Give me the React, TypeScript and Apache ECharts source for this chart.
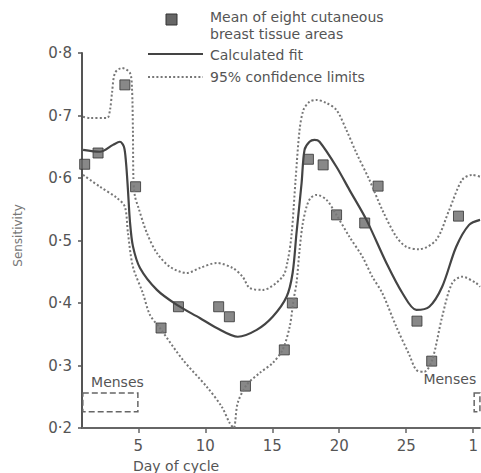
import React, { useEffect, useRef } from "react";
import * as echarts from "echarts";

const xTickValues = [5, 10, 15, 20, 25, 30];
const xTickLabels = ["5", "10", "15", "20", "25", "1"];

const meanDays = [1, 2, 4, 4.8, 6.7, 8, 11, 11.8, 13, 15.9, 16.5, 17.7, 18.8, 19.8, 21.9, 22.9, 25.8, 26.9, 28.9];
const meanValues = [0.622, 0.64, 0.749, 0.586, 0.36, 0.394, 0.394, 0.378, 0.267, 0.325, 0.4, 0.63, 0.621, 0.541, 0.528, 0.587, 0.371, 0.307, 0.539];

const fitDays = [0.88, 2.14, 3.11, 3.63, 3.93, 4.08, 4.23, 4.38, 4.6, 5.13, 6.39, 7.88, 9.59, 10.86, 12.43, 13.84, 15.03, 16.07, 16.52, 16.81, 17.19, 17.41, 17.78, 18.15, 18.53, 19.79, 20.76, 22.03, 23.52, 24.71, 25.75, 26.72, 27.68, 28.73, 29.69, 30.51];
const fitValues = [0.645, 0.642, 0.653, 0.658, 0.65, 0.626, 0.581, 0.53, 0.491, 0.456, 0.421, 0.397, 0.376, 0.36, 0.346, 0.357, 0.378, 0.41, 0.448, 0.512, 0.592, 0.645, 0.658, 0.661, 0.658, 0.618, 0.581, 0.533, 0.464, 0.416, 0.389, 0.394, 0.426, 0.49, 0.525, 0.533];

const upperDays = [0.88, 1.4, 2.67, 2.89, 3.04, 3.26, 3.78, 4.38, 4.53, 4.6, 4.64, 4.75, 4.99, 5.64, 6.39, 7.36, 8.62, 9.59, 10.86, 12.05, 12.79, 13.32, 14.29, 15.77, 16.14, 16.44, 16.74, 17.04, 17.33, 17.78, 18.3, 19.05, 19.79, 20.53, 21.28, 22.25, 23.21, 24.26, 25.0, 25.97, 27.24, 28.21, 29.17, 29.92, 30.51];
const upperValues = [0.698, 0.696, 0.696, 0.709, 0.736, 0.768, 0.776, 0.768, 0.744, 0.677, 0.597, 0.571, 0.554, 0.512, 0.48, 0.458, 0.448, 0.456, 0.464, 0.456, 0.442, 0.424, 0.421, 0.442, 0.466, 0.509, 0.597, 0.677, 0.709, 0.722, 0.725, 0.72, 0.709, 0.677, 0.64, 0.597, 0.549, 0.506, 0.49, 0.486, 0.501, 0.549, 0.597, 0.605, 0.602];

const lowerDays = [0.88, 2.14, 3.41, 4.0, 4.23, 4.6, 5.34, 5.87, 6.61, 8.33, 10.11, 11.23, 11.82, 12.12, 12.42, 13.09, 14.06, 15.03, 15.77, 16.3, 16.59, 16.81, 17.04, 17.26, 17.56, 17.86, 18.3, 19.05, 19.79, 20.76, 21.73, 22.47, 23.21, 24.26, 25.23, 25.75, 26.34, 26.94, 27.68, 28.43, 29.17, 30.21, 30.51];
const lowerValues = [0.605, 0.586, 0.568, 0.554, 0.512, 0.458, 0.416, 0.381, 0.36, 0.309, 0.266, 0.234, 0.208, 0.2, 0.24, 0.269, 0.288, 0.304, 0.325, 0.362, 0.405, 0.432, 0.485, 0.525, 0.554, 0.568, 0.573, 0.565, 0.541, 0.506, 0.474, 0.442, 0.416, 0.362, 0.317, 0.293, 0.29, 0.309, 0.378, 0.432, 0.442, 0.432, 0.426];

const mensesRanges = [
  [0.86, 4.97],
  [30.07, 33],
];
const mensesLow = 0.226;
const mensesHigh = 0.256;
const mensesLabel = "Menses";

const legendMean = ["Mean of eight cutaneous", "breast tissue areas"];
const legendFit = "Calculated fit";
const legendLimits = "95% confidence limits";

const FONT = "DejaVu Sans";
const TXT = "#555";

const pairs = (xs: number[], ys: number[]) => xs.map((x, i) => [x, ys[i]]);

export default function App() {
  const ref = useRef<HTMLDivElement>(null);
  useEffect(() => {
    if (!ref.current) return;
    const chart = echarts.init(ref.current, null, { renderer: "svg" });
    const dotted = { color: "#777", width: 2, type: [2, 2.2] as any };
    chart.setOption({
      animation: false,
      backgroundColor: "#fff",
      grid: { left: 82, right: 0, top: 53, bottom: 45 },
      xAxis: {
        type: "value",
        min: 0.8,
        max: 30.5,
        splitLine: { show: false },
        axisLine: { lineStyle: { color: "#666", width: 2 } },
        axisTick: { customValues: xTickValues, length: 5, lineStyle: { color: "#666", width: 1.5 } },
        axisLabel: {
          customValues: xTickValues,
          formatter: (v: number) => xTickLabels[xTickValues.indexOf(v)] ?? "",
          fontFamily: FONT,
          fontSize: 15,
          color: TXT,
          margin: 10,
        },
      },
      yAxis: {
        type: "value",
        min: 0.2,
        max: 0.8,
        interval: 0.1,
        name: "Sensitivity",
        nameLocation: "middle",
        nameGap: 58,
        nameTextStyle: { fontFamily: FONT, fontSize: 12, color: "#777", padding: [0, 0, 0, 10] },
        splitLine: { show: false },
        axisLine: { lineStyle: { color: "#555", width: 2 } },
        axisTick: { length: 4, lineStyle: { color: "#555", width: 1.5 } },
        axisLabel: {
          formatter: (v: number) => v.toFixed(1).replace(".", "·"),
          fontFamily: FONT,
          fontSize: 15,
          color: TXT,
          margin: 10,
        },
      },
      series: [
        {
          name: "Upper limit",
          type: "line",
          data: pairs(upperDays, upperValues),
          smooth: 0.3,
          showSymbol: false,
          lineStyle: dotted,
        },
        {
          name: "Lower limit",
          type: "line",
          data: pairs(lowerDays, lowerValues),
          smooth: 0.3,
          showSymbol: false,
          lineStyle: dotted,
        },
        {
          name: legendFit,
          type: "line",
          data: pairs(fitDays, fitValues),
          smooth: 0.3,
          showSymbol: false,
          lineStyle: { color: "#444", width: 2.2 },
        },
        {
          name: "Mean",
          type: "scatter",
          data: pairs(meanDays, meanValues),
          symbol: "rect",
          symbolSize: 10,
          itemStyle: { color: "#6a6a6a", borderColor: "#333", borderWidth: 1 },
          markArea: {
            silent: true,
            itemStyle: { color: "rgba(0,0,0,0)", borderColor: "#666", borderWidth: 1.5, borderType: "dashed" },
            label: {
              show: true,
              fontFamily: FONT,
              fontSize: 14,
              color: TXT,
            },
            data: mensesRanges.map((r, i) => [
              {
                xAxis: r[0],
                yAxis: mensesHigh,
                label: { position: i === 0 ? [9, -17] : [-50, -20], align: "left", verticalAlign: "top" },
                name: mensesLabel,
              },
              { xAxis: r[1], yAxis: mensesLow },
            ]),
          },
        },
      ],
      graphic: [
        { type: "rect", shape: { x: 166, y: 14, width: 11, height: 11 }, style: { fill: "#666", stroke: "#333", lineWidth: 1 } },
        { type: "text", x: 210, y: 17, style: { text: legendMean[0], font: `14px '${FONT}'`, fill: TXT, verticalAlign: "middle" } },
        { type: "text", x: 210, y: 34, style: { text: legendMean[1], font: `14px '${FONT}'`, fill: TXT, verticalAlign: "middle" } },
        { type: "line", shape: { x1: 148, y1: 54, x2: 203, y2: 54 }, style: { stroke: "#444", lineWidth: 2 } },
        { type: "text", x: 210, y: 55, style: { text: legendFit, font: `14px '${FONT}'`, fill: TXT, verticalAlign: "middle" } },
        { type: "line", shape: { x1: 148, y1: 77, x2: 203, y2: 77 }, style: { stroke: "#777", lineWidth: 2, lineDash: [2, 2.2] } },
        { type: "text", x: 210, y: 77, style: { text: legendLimits, font: `14px '${FONT}'`, fill: TXT, verticalAlign: "middle" } },
        { type: "text", x: 133, y: 466, style: { text: "Day of cycle", font: `14px '${FONT}'`, fill: TXT, verticalAlign: "middle" } },
      ],
    });
    return () => chart.dispose();
  }, []);
  return <div ref={ref} style={{ position: "fixed", left: 0, top: 0, width: 481, height: 473 }} />;
}
